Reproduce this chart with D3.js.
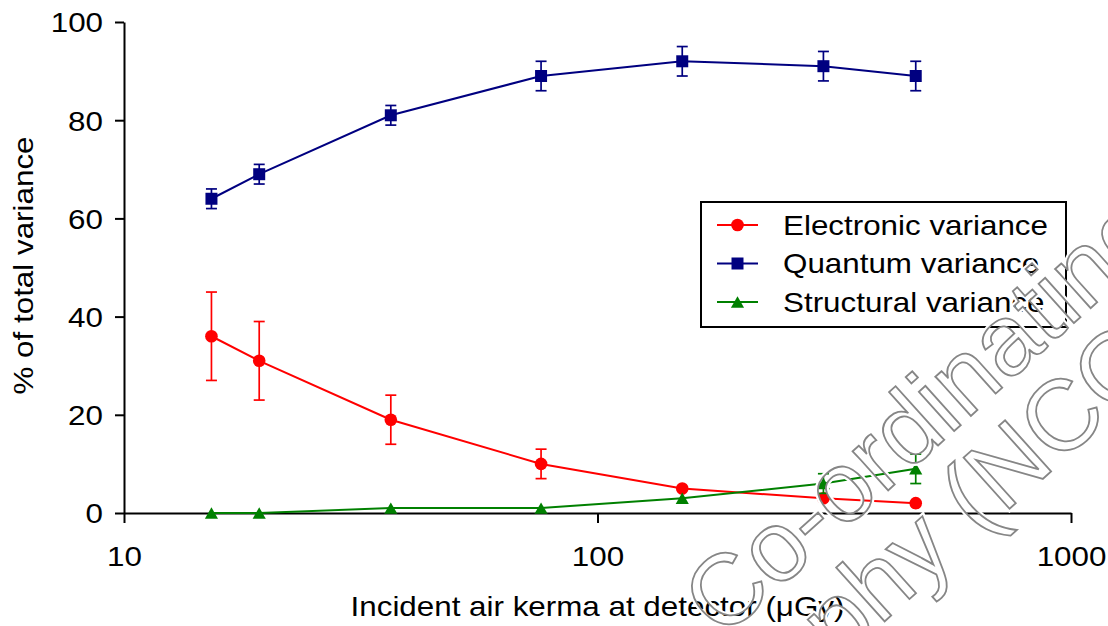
<!DOCTYPE html>
<html>
<head>
<meta charset="utf-8">
<script src="https://cdn.jsdelivr.net/npm/d3@7"></script>
<style>
  body { margin: 0; background: #fff; }
  svg { display: block; }
  text { font-family: "Liberation Sans", Arial, sans-serif; }
</style>
</head>
<body>
<svg id="chart" width="1108" height="626"></svg>
<script>
// Air kerma at the detector (µGy) for each measurement
const doses = [15.3, 19.3, 36.6, 76, 151, 300, 470];

// Share of total variance (%) and error bar half-widths (null = no bar)
const electronic    = [36, 31, 19, 10, 5, 3, 2];
const electronicErr = [9, 8, 5, 3, null, null, null];
const quantum       = [64, 69, 81, 89, 92, 91, 89];
const quantumErr    = [2, 2, 2, 3, 3, 3, 3];
const structural    = [0, 0, 1, 1, 3, 6, 9];
const structuralErr = [null, null, null, null, null, 2, 3];

const seriesNames = ["Electronic variance", "Quantum variance", "Structural variance"];
const xTicks = [10, 100, 1000];
const yTicks = [0, 20, 40, 60, 80, 100];
const xTitle = "Incident air kerma at detector (\u03bcGy)";
const yTitle = "% of total variance";
const watermarkLines = ["Co-ordinating", "Mammography", "(NCCPM)"];

const svg = d3.select("#chart");
const W = 1108, H = 626;
svg.append("rect").attr("width", W).attr("height", H).attr("fill", "#fff");

const x = d3.scaleLog().domain([10, 1000]).range([124, 1071]);
const y = d3.scaleLinear().domain([0, 100]).range([513, 22]);

const FS = 28;       // label font size
const WIDEN = 1.12;  // horizontal stretch of the label glyphs

function widen(sel) {
  sel.each(function () {
    const len = this.getComputedTextLength();
    this.setAttribute("textLength", len * WIDEN);
    this.setAttribute("lengthAdjust", "spacingAndGlyphs");
  });
}

// Triangle centred on its bounding box
const triangleBox = {
  draw(ctx, size) {
    const s = Math.sqrt(size * 4 / Math.sqrt(3));
    const h = s * Math.sqrt(3) / 2;
    ctx.moveTo(0, -h / 2);
    ctx.lineTo(s / 2, h / 2);
    ctx.lineTo(-s / 2, h / 2);
    ctx.closePath();
  }
};

const series = [
  { name: seriesNames[0], values: electronic, errs: electronicErr, color: "#ff0000", symbol: d3.symbolCircle, size: 125 },
  { name: seriesNames[1], values: quantum,    errs: quantumErr,    color: "#000080", symbol: d3.symbolSquare, size: 144 },
  { name: seriesNames[2], values: structural, errs: structuralErr, color: "#008000", symbol: triangleBox,     size: 75 }
];

// ---- axes ----
const yAxis = svg.append("g")
  .attr("transform", `translate(${x.range()[0]},0)`)
  .call(d3.axisLeft(y).tickValues(yTicks).tickSize(9).tickSizeOuter(0).tickPadding(12));
const xAxis = svg.append("g")
  .attr("transform", `translate(0,${y.range()[0]})`)
  .call(d3.axisBottom(x).tickValues(xTicks).tickFormat(d3.format("d")).tickSize(10).tickSizeOuter(0));

[yAxis, xAxis].forEach(g => {
  g.select(".domain").attr("stroke", "#000").attr("stroke-width", 2);
  g.selectAll(".tick line").attr("stroke", "#000").attr("stroke-width", 2);
  g.selectAll(".tick text").attr("fill", "#000").style("font-size", FS + "px");
});
yAxis.selectAll(".tick text").attr("dy", "0.35em");
xAxis.selectAll(".tick text").attr("y", 53).attr("dy", 0);
widen(yAxis.selectAll(".tick text"));
widen(xAxis.selectAll(".tick text"));

// Axis titles
svg.append("text")
  .attr("x", (x.range()[0] + x.range()[1]) / 2).attr("y", 616)
  .attr("text-anchor", "middle").style("font-size", FS + "px")
  .text(xTitle).call(widen);
svg.append("text")
  .attr("transform", `translate(33,${(y.range()[0] + y.range()[1]) / 2 - 2}) rotate(-90)`)
  .attr("text-anchor", "middle").style("font-size", FS + "px")
  .text(yTitle).call(widen);

// ---- series ----
const line = d3.line().x(d => x(d.dose)).y(d => y(d.v));
const CAP = 5.5;

series.forEach(s => {
  const pts = doses.map((dose, i) => ({ dose, v: s.values[i], e: s.errs[i] }));
  const g = svg.append("g");

  g.append("path").datum(pts)
    .attr("d", line).attr("fill", "none")
    .attr("stroke", s.color).attr("stroke-width", 2);

  const eb = g.selectAll(".err").data(pts.filter(p => p.e != null)).join("g")
    .attr("stroke", s.color).attr("stroke-width", 1.7);
  eb.append("line")
    .attr("x1", p => x(p.dose)).attr("x2", p => x(p.dose))
    .attr("y1", p => y(p.v + p.e)).attr("y2", p => y(p.v - p.e));
  eb.append("line")
    .attr("x1", p => x(p.dose) - CAP).attr("x2", p => x(p.dose) + CAP)
    .attr("y1", p => y(p.v + p.e)).attr("y2", p => y(p.v + p.e));
  eb.append("line")
    .attr("x1", p => x(p.dose) - CAP).attr("x2", p => x(p.dose) + CAP)
    .attr("y1", p => y(p.v - p.e)).attr("y2", p => y(p.v - p.e));

  g.selectAll(".mk").data(pts).join("path")
    .attr("d", d3.symbol().type(s.symbol).size(s.size))
    .attr("transform", p => `translate(${x(p.dose)},${y(p.v)})`)
    .attr("fill", s.color);
});

// ---- legend ----
const legend = svg.append("g");
legend.append("rect")
  .attr("x", 701).attr("y", 202).attr("width", 365).attr("height", 125)
  .attr("fill", "#fff").attr("stroke", "#000").attr("stroke-width", 2);
const rowY = [225, 263.5, 302];
series.forEach((s, i) => {
  const r = legend.append("g").attr("transform", `translate(0,${rowY[i]})`);
  r.append("line").attr("x1", 717).attr("x2", 758).attr("y1", 0).attr("y2", 0)
    .attr("stroke", s.color).attr("stroke-width", 2);
  r.append("path").attr("d", d3.symbol().type(s.symbol).size(s.size))
    .attr("transform", "translate(737.5,0)").attr("fill", s.color);
  r.append("text").attr("x", 783).attr("y", 0).attr("dy", "0.35em")
    .style("font-size", FS + "px").text(s.name).call(widen);
});

// ---- watermark: hollow grey lettering with a thin white ring outside ----
const WM_FS = "100px";
const WM_TRANSFORM = "translate(722,640) rotate(-42)";
const wmItems = [
  { t: watermarkLines[0], x: 0,   y: 0,  anchor: "start" },
  { t: watermarkLines[1], x: 232, y: 95, anchor: "end" },
  { t: watermarkLines[2], x: 260, y: 95, anchor: "start" }
];
function wmText(g) {
  wmItems.forEach(d => {
    g.append("text").attr("x", d.x).attr("y", d.y)
      .attr("text-anchor", d.anchor).text(d.t);
  });
  return g;
}
const defs = svg.append("defs");
const mask = defs.append("mask").attr("id", "wm-ring")
  .attr("maskUnits", "userSpaceOnUse")
  .attr("x", 0).attr("y", 0).attr("width", W).attr("height", H);
mask.append("rect").attr("width", W).attr("height", H).attr("fill", "#000");
wmText(mask.append("g").attr("transform", WM_TRANSFORM).style("font-size", WM_FS))
  .selectAll("text").attr("fill", "#fff").attr("stroke", "#fff").attr("stroke-width", 6);
wmText(mask.append("g").attr("transform", WM_TRANSFORM).style("font-size", WM_FS))
  .selectAll("text").attr("fill", "#000");

svg.append("rect").attr("width", W).attr("height", H)
  .attr("fill", "#fff").attr("mask", "url(#wm-ring)");
wmText(svg.append("g").attr("transform", WM_TRANSFORM).style("font-size", WM_FS))
  .selectAll("text").attr("fill", "none").attr("stroke", "#868686").attr("stroke-width", 1.8);
</script>
</body>
</html>
